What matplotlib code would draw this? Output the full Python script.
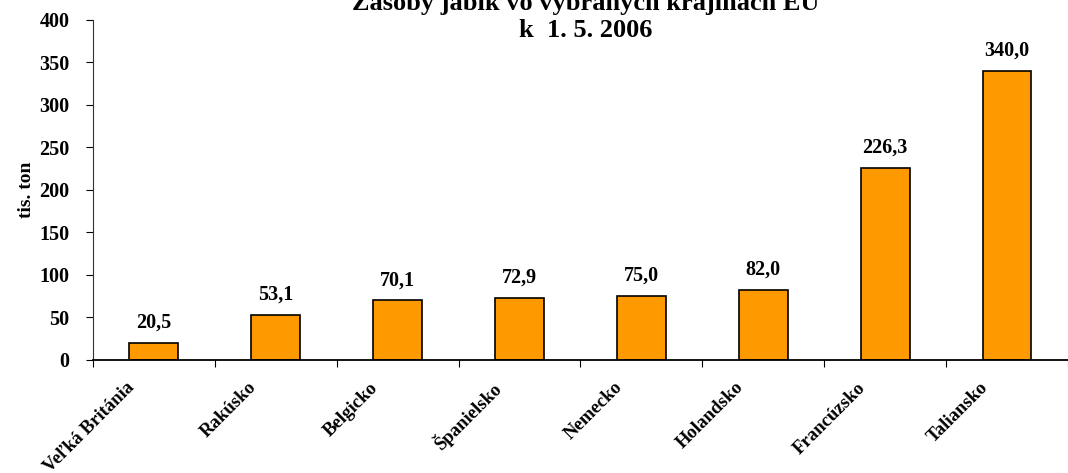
import numpy as np
import matplotlib
matplotlib.use("Agg")
from matplotlib import pyplot as plt
from matplotlib.transforms import ScaledTranslation

countries = ['Veľká Británia', 'Rakúsko', 'Belgicko', 'Španielsko',
             'Nemecko', 'Holandsko', 'Francúzsko', 'Taliansko']
stocks = [20.5, 53.1, 70.1, 72.9, 75.0, 82.0, 226.3, 340.0]
yticks = [0, 50, 100, 150, 200, 250, 300, 350, 400]

plt.rcParams['font.family'] = ['Liberation Serif', 'DejaVu Serif']
plt.rcParams['font.weight'] = 'bold'

fig = plt.figure(figsize=(10.68, 4.73), dpi=100)
ax = fig.add_axes([0.087, 0.239, 0.913, 0.719])

x = np.arange(len(countries))
ax.bar(x, stocks, width=0.4, color='#FF9900', edgecolor='black', linewidth=1.2)

for xi, v in zip(x, stocks):
    ax.text(xi, v + 12, f'{v:.1f}'.replace('.', ','), ha='center', va='bottom',
            fontsize=14.5, fontweight='bold')

ax.set_xlim(-0.5, len(countries) - 0.5)
ax.set_ylim(0, 400)
ax.set_yticks(yticks)
ax.set_yticklabels([str(t) for t in yticks], fontsize=14.5, fontweight='bold')

# category boundaries get the ticks, names sit under the bars
ax.set_xticks(np.arange(len(countries) + 1) - 0.5)
ax.set_xticklabels([])
lab_tr = ax.get_xaxis_transform() + ScaledTranslation(-0.22, -0.25, fig.dpi_scale_trans)
for xi, name in zip(x, countries):
    ax.text(xi, 0, name, transform=lab_tr, rotation=45, ha='right', va='center',
            rotation_mode='anchor', fontsize=13.5, fontweight='bold', clip_on=False)
ax.tick_params(axis='x', length=5, direction='out')
ax.tick_params(axis='y', length=5, direction='out', pad=12)

ax.set_ylabel('tis. ton', fontsize=14, fontweight='bold', labelpad=3)

for s in ['top', 'right']:
    ax.spines[s].set_visible(False)
ax.spines['left'].set_color('#333333')
ax.spines['bottom'].set_color('black')
ax.spines['bottom'].set_linewidth(1.3)

fig.text(0.548, 0.912, 'Zásoby jabĺk vo vybraných krajinách EÚ\nk  1. 5. 2006',
         ha='center', va='bottom', fontsize=19, fontweight='bold',
         linespacing=1.2)

fig.savefig('out.png', dpi=100)
